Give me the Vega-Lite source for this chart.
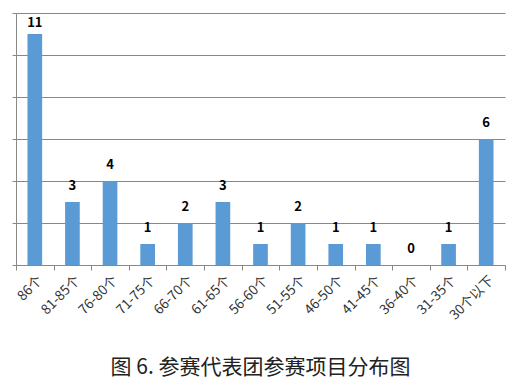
{
  "$schema": "https://vega.github.io/schema/vega-lite/v6.json",
  "width": 489,
  "height": 252,
  "padding": {"left": 11, "top": 12, "right": 14, "bottom": 5},
  "background": "white",
  "data": {"values": [
    {"cat": "86个", "n": 11},
    {"cat": "81-85个", "n": 3},
    {"cat": "76-80个", "n": 4},
    {"cat": "71-75个", "n": 1},
    {"cat": "66-70个", "n": 2},
    {"cat": "61-65个", "n": 3},
    {"cat": "56-60个", "n": 1},
    {"cat": "51-55个", "n": 2},
    {"cat": "46-50个", "n": 1},
    {"cat": "41-45个", "n": 1},
    {"cat": "36-40个", "n": 0},
    {"cat": "31-35个", "n": 1},
    {"cat": "30个以下", "n": 6}
  ]},
  "title": {
    "text": "图 6. 参赛代表团参赛项目分布图",
    "orient": "bottom",
    "font": "Noto Sans CJK SC",
    "fontSize": 21,
    "fontWeight": "normal",
    "color": "#222222",
    "offset": 35,
    "anchor": "middle"
  },
  "config": {
    "view": {"stroke": null},
    "axis": {"labelFont": "Noto Sans CJK SC", "domainColor": "#888888", "tickColor": "#888888", "gridColor": "#888888", "gridOpacity": 1}
  },
  "encoding": {
    "x": {
      "field": "cat", "type": "nominal", "sort": null,
      "scale": {"paddingInner": 0, "paddingOuter": 0},
      "axis": {"title": null, "labelAngle": -45, "labelFontSize": 13.5, "labelColor": "#333333", "tickBand": "extent", "tickSize": 5, "labelPadding": 3, "grid": false}
    },
    "y": {
      "field": "n", "type": "quantitative",
      "scale": {"domain": [0, 12], "nice": false},
      "axis": {"title": null, "labels": false, "values": [0, 2, 4, 6, 8, 10, 12], "tickSize": 4, "grid": true}
    }
  },
  "layer": [
    {"mark": {"type": "bar", "color": "#5B9BD5", "width": {"band": 0.39}}},
    {"transform": [{"filter": "datum.n <= 10"}],
     "mark": {"type": "text", "dy": -16, "font": "Noto Sans CJK SC", "fontSize": 13, "fontWeight": "bold", "color": "#000000"},
     "encoding": {"text": {"field": "n", "type": "quantitative"}}},
    {"transform": [{"filter": "datum.n > 10"}],
     "mark": {"type": "text", "dy": -11, "font": "Noto Sans CJK SC", "fontSize": 13, "fontWeight": "bold", "color": "#000000"},
     "encoding": {"text": {"field": "n", "type": "quantitative"}}}
  ]
}
